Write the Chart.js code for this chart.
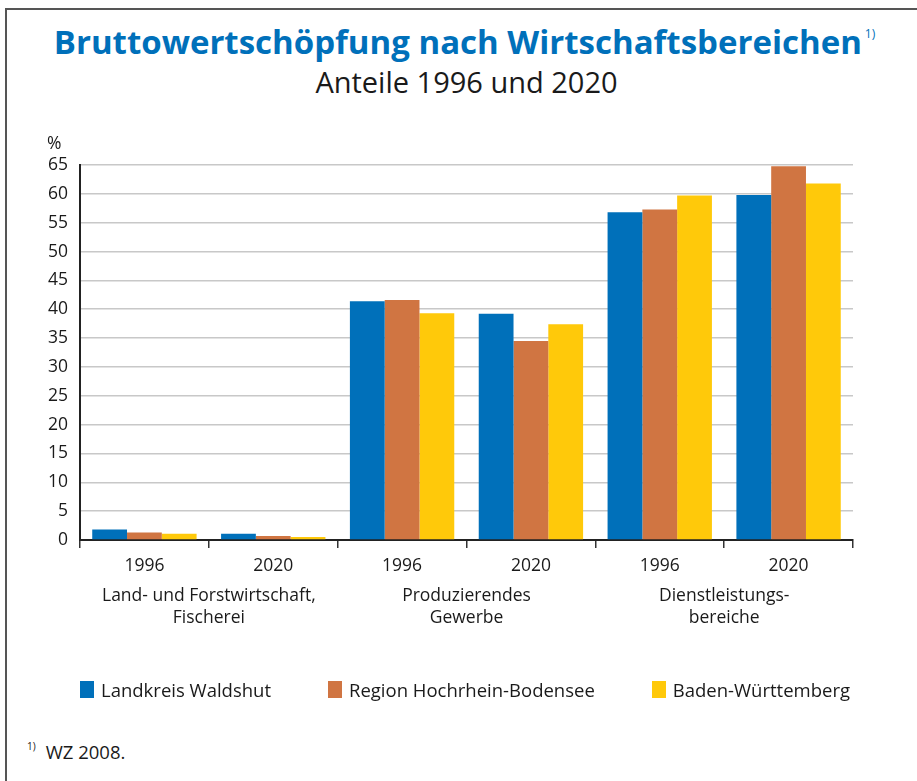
<!DOCTYPE html>
<html>
<head>
<meta charset="utf-8">
<script src="https://cdn.jsdelivr.net/npm/chart.js@4/dist/chart.umd.min.js"></script>
<style>
  body { margin: 0; background: #fff; font-family: "Open Sans", sans-serif; color: #1a1a1a; }
  .frame { position: absolute; left: 5px; top: 8px; width: 920px; height: 780px; border-left: 2px solid #555; border-top: 2px solid #555; }
  .title { position: absolute; left: 6px; width: 917px; top: 19px; text-align: center; font-weight: bold; font-size: 33px; color: #0070BA; }
  .title sup { font-weight: normal; font-size: 12px; vertical-align: top; position: relative; top: 6px; margin-left: 3px; }
  .subtitle { position: absolute; left: 8px; width: 917px; top: 62px; text-align: center; font-size: 29px; }
  .note { position: absolute; left: 27px; top: 739px; font-size: 18.5px; }
  .note sup { font-size: 10px; vertical-align: top; margin-right: 10px; }
  .wrap { position: absolute; left: 0; top: 0; width: 917px; height: 781px; }
  #legend { position: absolute; left: 80px; top: 677px; display: flex; gap: 57px; font-size: 18.5px; }
  #legend .item { display: flex; align-items: center; }
  #legend .box { width: 14px; height: 17px; margin-right: 7px; }
</style>
</head>
<body>
<div class="frame"></div>
<div class="title">Bruttowertschöpfung nach Wirtschaftsbereichen<sup>1)</sup></div>
<div class="subtitle">Anteile 1996 und 2020</div>
<div class="note"><sup>1)</sup>WZ 2008.</div>
<div class="wrap"><canvas id="myBarChart" width="917" height="781"></canvas></div>
<div id="legend"></div>
<script>
// data
const years = ["1996", "2020", "1996", "2020", "1996", "2020"];
const groups = [["Land- und Forstwirtschaft,", "Fischerei"], ["Produzierendes", "Gewerbe"], ["Dienstleistungs-", "bereiche"]];
const waldshut = [1.8, 1.1, 41.4, 39.2, 56.8, 59.8];
const hochrhein = [1.3, 0.7, 41.6, 34.5, 57.3, 64.8];
const bawue = [1.1, 0.5, 39.3, 37.4, 59.7, 61.8];

const textColor = '#1a1a1a';
const fontFamily = '"Open Sans", sans-serif';

// group labels under the year ticks, and the % sign on top of the y axis
const groupLabels = {
    id: 'groupLabels',
    afterDraw(chart) {
        const ctx = chart.ctx;
        const x = chart.scales.x;
        const y = chart.scales.y;
        ctx.save();
        ctx.fillStyle = textColor;
        ctx.font = '17.5px ' + fontFamily;
        ctx.textAlign = 'center';
        ctx.textBaseline = 'middle';
        groups.forEach(function(lines, g) {
            const cx = (x.getPixelForValue(g * 2) + x.getPixelForValue(g * 2 + 1)) / 2;
            lines.forEach(function(line, i) {
                ctx.fillText(line, cx, chart.chartArea.bottom + 56 + i * 22);
            });
        });
        ctx.textAlign = 'left';
        ctx.fillText('%', y.left + 47, chart.chartArea.top - 21);
        ctx.restore();
    }
};

var ctx = document.getElementById('myBarChart').getContext('2d');
var chart = new Chart(ctx, {
    type: 'bar',
    data: {
        labels: years,
        datasets: [{
            label: "Landkreis Waldshut",
            backgroundColor: "#0070BA",
            data: waldshut
        }, {
            label: "Region Hochrhein-Bodensee",
            backgroundColor: "#D07542",
            data: hochrhein
        }, {
            label: "Baden-Württemberg",
            backgroundColor: "#FFC90A",
            data: bawue
        }]
    },
    options: {
        responsive: false,
        animation: false,
        layout: { padding: { top: 165, left: 0, right: 64, bottom: 181 } },
        datasets: { bar: { categoryPercentage: 0.81, barPercentage: 1.0 } },
        plugins: {
            tooltip: { enabled: false },
            legend: { display: false }
        },
        scales: {
            x: {
                grid: { offset: true, drawOnChartArea: false, drawTicks: true, tickLength: 8, color: '#333', lineWidth: 1.5 },
                border: { color: '#222', width: 2 },
                ticks: { color: textColor, padding: 8, font: { family: fontFamily, size: 17.5 } },
                afterFit: function(scale) { scale.height = 60; }
            },
            y: {
                min: 0,
                max: 65,
                ticks: { stepSize: 5, autoSkip: false, color: textColor, padding: 12, font: { family: fontFamily, size: 17.5 } },
                grid: { color: '#c8c8c8', lineWidth: 1.5, drawTicks: false },
                border: { color: '#222', width: 2 },
                afterFit: function(scale) { scale.width = 80; }
            }
        }
    },
    plugins: [groupLabels]
});

// legend built from the chart's own legend items
const legendEl = document.getElementById('legend');
chart.options.plugins.legend.labels.generateLabels(chart).forEach(function(item) {
    const div = document.createElement('div');
    div.className = 'item';
    const box = document.createElement('span');
    box.className = 'box';
    box.style.background = item.fillStyle;
    div.appendChild(box);
    div.appendChild(document.createTextNode(item.text));
    legendEl.appendChild(div);
});
</script>
</body>
</html>
